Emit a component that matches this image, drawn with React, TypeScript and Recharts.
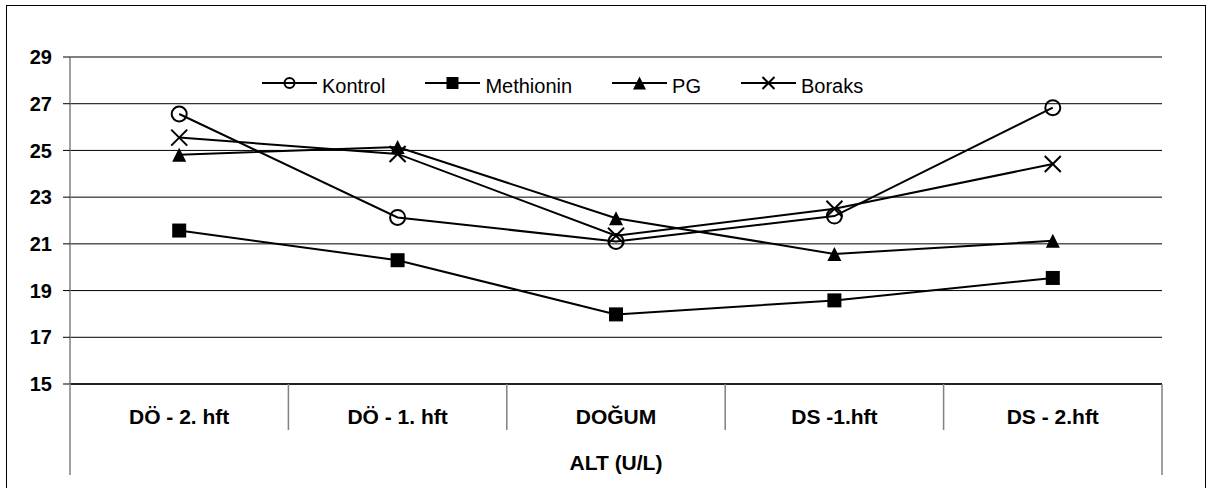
import React from "react";
import { LineChart, Line, XAxis, YAxis, CartesianGrid, Legend } from "recharts";

const categories = ["DÖ - 2. hft", "DÖ - 1. hft", "DOĞUM", "DS -1.hft", "DS - 2.hft"];
const kontrol = [26.56, 22.13, 21.1, 22.19, 26.83];
const methionin = [21.57, 20.3, 17.98, 18.58, 19.54];
const pg = [24.82, 25.15, 22.1, 20.57, 21.13];
const boraks = [25.55, 24.85, 21.35, 22.5, 24.42];
const yTicks = [15, 17, 19, 21, 23, 25, 27, 29];
const axisTitle = "ALT (U/L)";

type Shape = "circle" | "square" | "triangle" | "cross";

const seriesDefs: { key: string; name: string; shape: Shape; values: number[] }[] = [
  { key: "kontrol", name: "Kontrol", shape: "circle", values: kontrol },
  { key: "methionin", name: "Methionin", shape: "square", values: methionin },
  { key: "pg", name: "PG", shape: "triangle", values: pg },
  { key: "boraks", name: "Boraks", shape: "cross", values: boraks },
];

const data = categories.map((cat, i) => {
  const row: Record<string, string | number> = { cat };
  for (const s of seriesDefs) row[s.key] = s.values[i];
  return row;
});

const W = 1210;
const H = 488;
const M = { top: 57, right: 48, bottom: 0, left: 0 };
const Y_AXIS_W = 70;
const X_AXIS_H = 104;
const PLOT_W = W - M.left - M.right - Y_AXIS_W;
const HALF_BAND = PLOT_W / (categories.length * 2);
const FONT = "'Liberation Sans', Arial, sans-serif";

function Marker({ shape, cx, cy, s }: { shape: Shape; cx: number; cy: number; s: number }) {
  if (shape === "circle") {
    return <circle cx={cx} cy={cy} r={s / 2} fill="none" stroke="#000" strokeWidth={2} />;
  }
  if (shape === "square") {
    return <rect x={cx - s / 2} y={cy - s / 2} width={s} height={s} fill="#000" />;
  }
  if (shape === "triangle") {
    return (
      <polygon
        points={`${cx},${cy - s / 2} ${cx + s / 2},${cy + s / 2} ${cx - s / 2},${cy + s / 2}`}
        fill="#000"
      />
    );
  }
  const h = s / 2;
  return (
    <g stroke="#000" strokeWidth={2}>
      <line x1={cx - h} y1={cy - h} x2={cx + h} y2={cy + h} />
      <line x1={cx - h} y1={cy + h} x2={cx + h} y2={cy - h} />
    </g>
  );
}

const legendSize: Record<Shape, number> = { circle: 10, square: 12, triangle: 13, cross: 12 };
const dotSize: Record<Shape, number> = { circle: 15, square: 14, triangle: 14, cross: 16 };

function LegendBox() {
  return (
    <div
      style={{
        background: "#fff",
        height: "100%",
        display: "flex",
        alignItems: "center",
        paddingLeft: 17,
        gap: 40,
        fontFamily: FONT,
        fontSize: 20,
        color: "#000",
        boxSizing: "border-box",
      }}
    >
      {seriesDefs.map((s) => (
        <div key={s.key} style={{ display: "flex", alignItems: "center" }}>
          <svg width={55} height={20}>
            <line x1={0} y1={10} x2={55} y2={10} stroke="#000" strokeWidth={2} />
            <Marker shape={s.shape} cx={27.5} cy={10} s={legendSize[s.shape]} />
          </svg>
          <span style={{ marginLeft: 5, paddingTop: 6, lineHeight: "20px" }}>{s.name}</span>
        </div>
      ))}
    </div>
  );
}

function CategoryTick(props: any) {
  const { x, y, payload, index } = props;
  const last = index === categories.length - 1;
  return (
    <g>
      <text
        x={x}
        y={y + 40}
        textAnchor="middle"
        fontSize={21}
        fontWeight="bold"
        fill="#000"
        fontFamily={FONT}
      >
        {payload.value}
      </text>
      <line
        x1={x - HALF_BAND}
        x2={x - HALF_BAND}
        y1={y}
        y2={y + (index === 0 ? 91 : 46)}
        stroke="#808080"
        strokeWidth={1.5}
      />
      {last && (
        <line
          x1={x + HALF_BAND}
          x2={x + HALF_BAND}
          y1={y}
          y2={y + 91}
          stroke="#808080"
          strokeWidth={1.5}
        />
      )}
    </g>
  );
}

export default function App() {
  return (
    <div style={{ position: "absolute", left: 0, top: 0, width: W, height: H, overflow: "hidden", background: "#fff", fontFamily: FONT }}>
      <div
        style={{
          position: "absolute",
          left: 6,
          top: 5,
          width: 1200,
          height: 500,
          border: "1px solid #000",
          boxSizing: "border-box",
        }}
      />
      <LineChart width={W} height={H} data={data} margin={M} style={{ position: "absolute", left: 0, top: 0 }}>
        <CartesianGrid vertical={false} stroke="#000" strokeWidth={1} />
        <XAxis
          dataKey="cat"
          height={X_AXIS_H}
          padding={{ left: HALF_BAND, right: HALF_BAND }}
          axisLine={{ stroke: "#000", strokeWidth: 1.5 }}
          tickLine={false}
          tickSize={0}
          tickMargin={0}
          interval={0}
          tick={(p: any) => <CategoryTick {...p} />}
          label={{
            value: axisTitle,
            position: "insideBottom",
            offset: 18,
            fontSize: 21,
            fontWeight: "bold",
            fill: "#000",
          }}
        />
        <YAxis
          width={Y_AXIS_W}
          domain={[15, 29]}
          ticks={yTicks}
          interval={0}
          axisLine={{ stroke: "#808080", strokeWidth: 1.5 }}
          tickLine={{ stroke: "#000" }}
          tickSize={7}
          tickMargin={11}
          tick={{ fontSize: 20, fontWeight: "bold", fill: "#000" }}
        />
        <Legend
          layout="horizontal"
          verticalAlign="middle"
          align="center"
          wrapperStyle={{ top: 64, left: 245, width: 641, height: 38 }}
          content={() => <LegendBox />}
        />
        {seriesDefs.map((s) => (
          <Line
            key={s.key}
            dataKey={s.key}
            name={s.name}
            type="linear"
            stroke="#000"
            strokeWidth={2}
            isAnimationActive={false}
            dot={(p: any) => (
              <Marker key={`${s.key}-${p.index}`} shape={s.shape} cx={p.cx} cy={p.cy} s={dotSize[s.shape]} />
            )}
            activeDot={false}
          />
        ))}
      </LineChart>
    </div>
  );
}
